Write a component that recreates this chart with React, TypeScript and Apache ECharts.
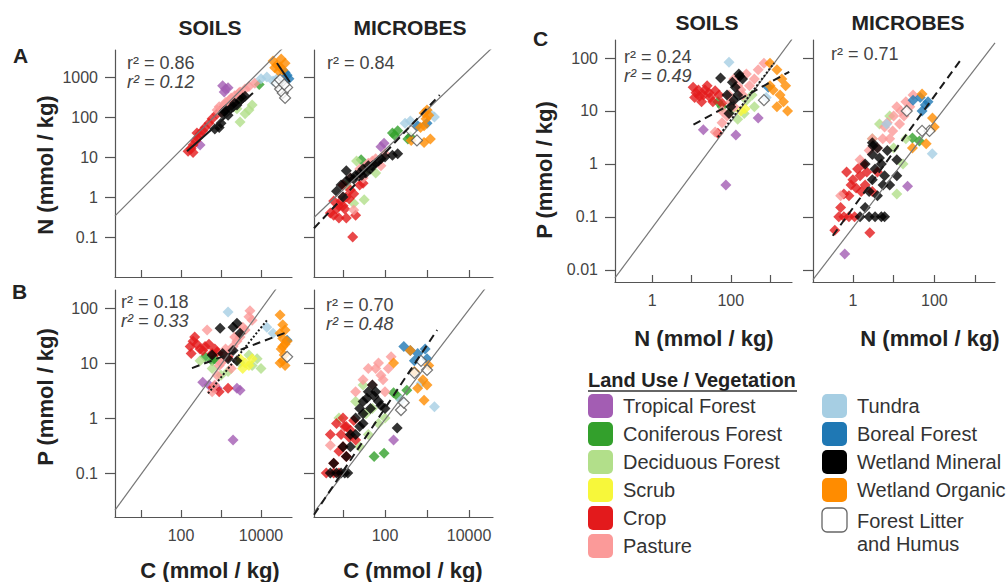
import React, { useEffect, useRef } from 'react';
import * as echarts from 'echarts';

const FONT = '"Liberation Sans", Arial, sans-serif';

const CAT_KEYS = ['trop', 'conif', 'decid', 'scrub', 'crop', 'past', 'tundra', 'boreal', 'wetMin', 'wetOrg', 'litter'];
const CAT_NAMES = ['Tropical Forest', 'Coniferous Forest', 'Deciduous Forest', 'Scrub', 'Crop', 'Pasture', 'Tundra', 'Boreal Forest', 'Wetland Mineral', 'Wetland Organic', 'Forest Litter\nand Humus'];
const CAT_COLORS = ['#a35db3', '#33a02c', '#b2df8a', '#f7f73a', '#e31a1c', '#fb9a99', '#a6cee3', '#1f78b4', '#000000', '#ff8c00', '#ffffff'];

// Panel A, soils: [C, N] in mmol/kg
const soilCN: Record<string, number[][]> = {
  trop: [[1100, 600], [1300, 500], [1200, 420], [1500, 540], [300, 20]],
  conif: [[9000, 650], [3000, 280]],
  decid: [[5000, 150], [3000, 75], [6000, 200], [4000, 120], [2500, 160]],
  scrub: [],
  crop: [[150, 14], [180, 16], [200, 20], [230, 25], [260, 30], [300, 38], [350, 45], [400, 55], [500, 70], [600, 90], [800, 120], [1000, 150], [1100, 140], [250, 40], [200, 13]],
  past: [[800, 150], [1000, 130], [1200, 200], [1600, 260], [2000, 230], [2200, 340], [3000, 420], [4000, 500], [5000, 580], [7000, 700], [1500, 180], [2500, 300], [900, 180], [1800, 300], [2800, 400], [1300, 230]],
  tundra: [[10000, 900], [14000, 1000], [20000, 800], [25000, 900], [30000, 750]],
  boreal: [[50000, 900], [45000, 1100], [40000, 1300]],
  wetMin: [[900, 55], [1000, 70], [1100, 120], [1300, 150], [1500, 110], [2000, 180], [2500, 200], [3000, 260], [3500, 300], [4000, 330], [1200, 140], [700, 50], [1700, 160], [2200, 220]],
  wetOrg: [[20000, 2500], [25000, 2000], [30000, 1800], [35000, 1500], [40000, 2200], [28000, 1400], [22000, 1700], [32000, 2800]],
  litter: [[25000, 700], [30000, 500], [35000, 400], [40000, 300], [45000, 550], [30000, 850], [38000, 650]],
};

// Panel A, microbes: [C, N]
const microCN: Record<string, number[][]> = {
  trop: [[80, 18], [95, 22]],
  conif: [[27, 8.5], [150, 40], [200, 45], [170, 35], [400, 32], [350, 28]],
  decid: [[21, 8], [32, 0.85], [18, 0.7], [40, 5], [60, 4], [12, 2]],
  scrub: [],
  crop: [[5, 0.4], [6, 0.35], [7, 0.5], [9, 0.8], [10, 0.6], [12, 1.0], [15, 1.5], [20, 0.35], [18, 1.2], [25, 2.0], [30, 2.2], [8, 0.6], [12, 0.3], [17, 0.1], [6, 0.8], [10, 2], [8, 0.3], [11, 0.5], [14, 0.9]],
  past: [[15, 3], [25, 5], [40, 7], [60, 9], [80, 6], [30, 3], [10, 1], [18, 0.47], [100, 12], [50, 8], [35, 6]],
  tundra: [[300, 70], [1500, 100], [1200, 120], [400, 80]],
  boreal: [[1000, 70], [600, 60]],
  wetMin: [[7, 1.4], [9, 2], [12, 4.5], [12, 2.5], [15, 3], [20, 3.5], [25, 4], [30, 5], [40, 6], [50, 6], [60, 7], [80, 9], [100, 10], [150, 11], [200, 12], [10, 1.0], [35, 4], [18, 2.8], [28, 3.5], [45, 5], [70, 8]],
  wetOrg: [[850, 126], [1000, 150], [1100, 110], [850, 60], [700, 55], [420, 26], [850, 23], [1200, 28], [950, 90]],
  litter: [[575, 26], [420, 45]],
};

// Panel B, soils: [C, P]
const soilCP: Record<string, number[][]> = {
  trop: [[350, 4.5], [500, 4], [700, 3.8], [800, 3.5], [2000, 0.4], [3000, 3.2], [2500, 3.5]],
  conif: [[600, 11], [700, 12], [400, 13]],
  decid: [[300, 11], [600, 8], [1500, 7], [3000, 10], [6000, 9], [8000, 12], [10000, 8], [5000, 14], [1000, 6]],
  scrub: [[3000, 12], [4000, 10], [5000, 9], [6000, 12], [3500, 8]],
  crop: [[170, 20], [200, 25], [250, 22], [300, 18], [400, 20], [600, 15], [800, 16], [1200, 14], [180, 15], [220, 30], [500, 22], [1500, 13], [350, 17], [700, 18], [630, 3.6], [1500, 3.5], [900, 3]],
  past: [[600, 3], [800, 6], [1000, 10], [1500, 15], [2500, 25], [4000, 40], [6000, 60], [450, 40], [5300, 90], [700, 4], [1200, 12], [2000, 20], [3000, 30], [1800, 8], [900, 9], [1300, 18], [2200, 30], [3500, 45], [5000, 70]],
  tundra: [[1500, 85], [20000, 35], [14000, 45]],
  boreal: [[45000, 26]],
  wetMin: [[950, 43], [2500, 53], [3000, 35], [2000, 17], [2500, 11], [1100, 15], [600, 14], [2000, 45], [1500, 12]],
  wetOrg: [[30000, 75], [35000, 50], [40000, 40], [30000, 35], [35000, 28], [40000, 22], [32000, 18], [38000, 14], [35000, 11], [40000, 9], [30000, 10], [45000, 25], [35000, 20]],
  litter: [[45000, 13]],
};

// Panel B, microbes: [C, P]
const microCP: Record<string, number[][]> = {
  trop: [[160, 0.4]],
  conif: [[55, 0.2], [95, 0.23], [160, 2.9], [330, 3.2], [200, 2.5]],
  decid: [[8, 1], [20, 2], [40, 0.5], [25, 0.3], [50, 1.5], [70, 0.8], [30, 4], [35, 1.2], [100, 1]],
  scrub: [],
  crop: [[4, 0.1], [6, 0.1], [8, 0.1], [5, 0.5], [7, 0.8], [10, 0.3], [15, 0.6], [20, 0.4], [12, 0.2], [8, 0.25], [6, 0.15], [18, 0.9], [10, 1], [12, 0.7], [9, 0.5], [14, 0.45], [11, 0.7]],
  past: [[5, 0.32], [30, 5], [50, 4], [80, 6], [100, 3], [60, 8], [140, 13], [20, 3], [40, 8], [70, 10], [120, 8], [90, 5]],
  tundra: [[1500, 1.6], [240, 2.1], [720, 4.3]],
  boreal: [[280, 20], [400, 17], [600, 15], [900, 18], [1000, 12], [500, 11]],
  wetMin: [[5, 0.1], [7, 0.1], [9, 0.1], [11, 0.1], [13, 0.1], [6, 0.15], [10, 0.3], [15, 0.5], [20, 1], [25, 1.5], [30, 2], [40, 3], [50, 4], [60, 3], [70, 2], [30, 0.8], [20, 0.5], [15, 0.3], [100, 1.5], [195, 0.66], [12, 0.2], [37, 2.3], [80, 1.7], [30, 1.2], [45, 1.5], [55, 2.5], [25, 0.7]],
  wetOrg: [[160, 10], [500, 7], [800, 5], [1000, 4], [600, 3.5], [850, 2.1], [400, 17], [1100, 9]],
  litter: [[240, 1.4], [280, 1.9], [500, 6.6], [1000, 7.5], [720, 11]],
};

// Panel C, soils: [N, P]
const soilNP: Record<string, number[][]> = {
  trop: [[20, 4.4], [135, 3.5], [500, 7.4], [75, 0.4]],
  conif: [[47, 15], [60, 12]],
  decid: [[250, 16], [220, 9], [400, 12], [350, 20], [100, 10], [150, 7]],
  scrub: [[180, 10], [230, 11]],
  crop: [[11, 28], [13, 22], [15, 25], [20, 20], [25, 30], [30, 18], [40, 24], [50, 20], [12, 18], [18, 15], [35, 15], [60, 14], [47, 3.8], [22, 25], [28, 22], [16, 19]],
  past: [[40, 4], [80, 8], [120, 12], [200, 20], [400, 40], [700, 80], [300, 30], [150, 30], [250, 50], [60, 6], [100, 15], [90, 20], [180, 25], [500, 60], [60, 10], [120, 40]],
  tundra: [[90, 83], [800, 18]],
  boreal: [[900, 28]],
  wetMin: [[55, 42], [160, 50], [170, 45], [120, 16], [150, 20], [200, 40], [100, 12], [130, 28], [90, 9], [110, 35], [80, 20]],
  wetOrg: [[1000, 80], [1500, 60], [2000, 40], [2500, 30], [1200, 25], [1800, 20], [2200, 15], [1500, 12], [2800, 10], [1000, 30]],
  litter: [[700, 16]],
};

// Panel C, microbes: [N, P]
const microNP: Record<string, number[][]> = {
  trop: [[0.63, 0.02], [22, 0.38]],
  conif: [[29, 3.1], [43, 2.7]],
  decid: [[3, 3], [12, 0.27], [17, 1.0], [4.5, 5.7], [8, 8], [10, 2], [20, 3]],
  scrub: [],
  crop: [[0.45, 0.1], [0.6, 0.1], [0.8, 0.1], [1.1, 0.1], [0.7, 0.7], [1, 0.5], [1.5, 0.6], [2, 0.4], [3, 0.3], [1.2, 0.35], [0.8, 0.25], [4, 0.7], [0.6, 0.27], [0.36, 0.056], [2.6, 0.05], [0.9, 0.4], [1.3, 0.8], [1.8, 1], [2.2, 0.7], [0.5, 0.15], [1.6, 0.3]],
  past: [[0.5, 0.25], [1.5, 1.2], [3, 3], [6, 5], [10, 8], [15, 10], [20, 15], [30, 20], [8, 3], [9.5, 4.2], [14, 5.7], [5.4, 3], [7, 6], [12, 12], [18, 8], [25, 12], [4, 2], [2.5, 1.8]],
  tundra: [[89, 1.55], [6.7, 5.7]],
  boreal: [[30, 16], [45, 18], [60, 13], [50, 10], [70, 15]],
  wetMin: [[1.5, 0.1], [2.5, 0.1], [3.5, 0.1], [5, 0.1], [6, 0.1], [2, 1], [3, 1.5], [4, 2], [5, 1], [6, 0.6], [3, 0.5], [2.5, 0.3], [4, 0.25], [8, 0.4], [12, 1.2], [2, 0.15], [3, 2.5], [3.1, 2.2], [12, 0.6], [4.5, 1.3], [7, 1.8], [3.5, 0.8], [5.5, 0.4]],
  wetOrg: [[50, 21], [90, 7.4], [29, 2.0], [63, 2.4], [100, 5]],
  litter: [[21, 10], [76, 4.2], [50, 4.2]],
};

// Regression lines (end points, raw units)
const fitSoilCN = [[141, 14], [6300, 400]];
const fitSoilCNorg = [[25000, 2240], [52500, 750]];
const fitMicroCN = [[2.04, 0.166], [2000, 355]];
const fitSoilCPdash = [[188, 8.1], [44700, 36.6]];
const fitSoilCPdot = [[475, 2.8], [14000, 60]];
const fitMicroCP = [[2.04, 0.0174], [1740, 40]];
const fitSoilNPdash = [[11.2, 5.5], [3090, 55]];
const fitSoilNPdot = [[47, 3.2], [1260, 80]];
const fitMicroNP = [[0.32, 0.044], [480, 100]];

// Redfield ratios (C:N:P = 106:16:1)
const RATIO_CN = 106 / 16;
const RATIO_CP = 106;
const RATIO_NP = 16;

// r² annotations
const r2SoilCN = ['0.86', '0.12'];
const r2MicroCN = ['0.84'];
const r2SoilCP = ['0.18', '0.33'];
const r2MicroCP = ['0.70', '0.48'];
const r2SoilNP = ['0.24', '0.49'];
const r2MicroNP = ['0.71'];

const L = Math.log10;

interface Fit { pts: number[][]; dash: any }
interface Panel {
  data: Record<string, number[][]>;
  grid: { left: number; top: number; width: number; height: number };
  x: [number, number];
  y: [number, number];
  xTicks: number[];
  xLabels: number[];
  yTicks: number[];
  yLabels: number[];
  ratio: number;
  fits: Fit[];
  r2: string[];
  r2Pos: [number, number];
}

const DASH = [8, 5];

const panels: Panel[] = [
  { data: soilCN, grid: { left: 115, top: 50, width: 177, height: 227 }, x: [0.35, 4.775], y: [-2, 3.675], xTicks: [1, 2, 3, 4], xLabels: [], yTicks: [-1, 0, 1, 2, 3], yLabels: [-1, 0, 1, 2, 3], ratio: RATIO_CN, fits: [{ pts: fitSoilCN, dash: 'solid' }, { pts: fitSoilCNorg, dash: 'solid' }], r2: r2SoilCN, r2Pos: [127, 63] },
  { data: microCN, grid: { left: 314, top: 50, width: 179, height: 227 }, x: [0.31, 4.57], y: [-2, 3.675], xTicks: [1, 2, 3, 4], xLabels: [], yTicks: [-1, 0, 1, 2, 3], yLabels: [], ratio: RATIO_CN, fits: [{ pts: fitMicroCN, dash: DASH }], r2: r2MicroCN, r2Pos: [327, 63] },
  { data: soilCP, grid: { left: 115, top: 290, width: 177, height: 227 }, x: [0.35, 4.775], y: [-1.8, 2.33], xTicks: [1, 2, 3, 4], xLabels: [2, 4], yTicks: [-1, 0, 1, 2], yLabels: [-1, 0, 1, 2], ratio: RATIO_CP, fits: [{ pts: fitSoilCPdash, dash: DASH }, { pts: fitSoilCPdot, dash: [2, 2] }], r2: r2SoilCP, r2Pos: [121, 302] },
  { data: microCP, grid: { left: 314, top: 290, width: 179, height: 227 }, x: [0.31, 4.57], y: [-1.8, 2.33], xTicks: [1, 2, 3, 4], xLabels: [2, 4], yTicks: [-1, 0, 1, 2], yLabels: [], ratio: RATIO_CP, fits: [{ pts: fitMicroCP, dash: DASH }], r2: r2MicroCP, r2Pos: [326, 305] },
  { data: soilNP, grid: { left: 615, top: 40, width: 177, height: 242 }, x: [-0.95, 3.56], y: [-2.23, 2.34], xTicks: [0, 1, 2, 3], xLabels: [0, 2], yTicks: [-2, -1, 0, 1, 2], yLabels: [-2, -1, 0, 1, 2], ratio: RATIO_NP, fits: [{ pts: fitSoilNPdash, dash: DASH }, { pts: fitSoilNPdot, dash: [2, 2] }], r2: r2SoilNP, r2Pos: [624, 57] },
  { data: microNP, grid: { left: 813, top: 40, width: 182, height: 242 }, x: [-0.98, 3.49], y: [-2.23, 2.34], xTicks: [0, 1, 2, 3], xLabels: [0, 2], yTicks: [-2, -1, 0, 1, 2], yLabels: [], ratio: RATIO_NP, fits: [{ pts: fitMicroNP, dash: DASH }], r2: r2MicroNP, r2Pos: [831, 54] },
];

const fmt = (v: number) => {
  const p = Math.round(v);
  return p >= 0 ? String(Math.pow(10, p)) : Math.pow(10, p).toFixed(-p);
};

const AXIS_COLOR = '#555';

function buildOption() {
  const grid: any[] = [];
  const xAxis: any[] = [];
  const yAxis: any[] = [];
  const series: any[] = [];
  const graphic: any[] = [];

  panels.forEach((p, i) => {
    grid.push({ ...p.grid, containLabel: false });
    xAxis.push({
      type: 'value', gridIndex: i, min: p.x[0], max: p.x[1],
      axisLine: { show: true, onZero: false, lineStyle: { color: AXIS_COLOR, width: 1.2 } },
      axisTick: { show: true, inside: true, length: 7, customValues: p.xTicks, lineStyle: { color: AXIS_COLOR, width: 1.2 } },
      axisLabel: { show: p.xLabels.length > 0, customValues: p.xLabels, formatter: fmt, margin: 10, fontSize: 16, color: '#444', fontFamily: FONT },
      splitLine: { show: false },
    });
    yAxis.push({
      type: 'value', gridIndex: i, min: p.y[0], max: p.y[1],
      axisLine: { show: true, onZero: false, lineStyle: { color: AXIS_COLOR, width: 1.2 } },
      axisTick: { show: true, inside: false, length: 10, customValues: p.yTicks, lineStyle: { color: AXIS_COLOR, width: 1.2 } },
      axisLabel: { show: p.yLabels.length > 0, customValues: p.yLabels, formatter: fmt, margin: 17, fontSize: 16, color: '#444', fontFamily: FONT },
      splitLine: { show: false },
    });

    CAT_KEYS.forEach((k, ci) => {
      const pts = p.data[k] || [];
      const isLitter = k === 'litter';
      series.push({
        type: 'scatter', name: CAT_NAMES[ci], xAxisIndex: i, yAxisIndex: i,
        symbol: 'diamond', symbolSize: 11,
        itemStyle: isLitter
          ? { color: '#ffffff', borderColor: '#555', borderWidth: 1.2 }
          : { color: CAT_COLORS[ci] },
        data: pts.map(([a, b]) => [L(a), L(b)]),
        z: 2,
      });
    });

    const lr = L(p.ratio);
    series.push({
      type: 'line', xAxisIndex: i, yAxisIndex: i, symbol: 'none', clip: true, silent: true,
      lineStyle: { color: '#777', width: 1.2 },
      data: [[p.x[0], p.x[0] - lr], [p.x[1], p.x[1] - lr]],
      z: 3,
    });
    p.fits.forEach((f) => {
      series.push({
        type: 'line', xAxisIndex: i, yAxisIndex: i, symbol: 'none', clip: true, silent: true,
        lineStyle: { color: '#1a1a1a', width: 2, type: f.dash },
        data: f.pts.map(([a, b]) => [L(a), L(b)]),
        z: 4,
      });
    });

    p.r2.forEach((v, j) => {
      graphic.push({
        type: 'text', x: p.r2Pos[0], y: p.r2Pos[1] + j * 19,
        style: {
          text: 'r² = ' + v,
          font: (j === 1 ? 'italic ' : '') + '18px ' + FONT,
          fill: '#444', align: 'left', verticalAlign: 'middle', textAlign: 'left', textVerticalAlign: 'middle',
        },
        z: 10,
      });
    });
  });

  const txt = (text: string, x: number, y: number, font: string, opts: any = {}) => ({
    type: 'text', x, y, rotation: opts.rotation || 0,
    style: {
      text, font, fill: opts.fill || '#222',
      align: opts.align || 'center', verticalAlign: 'middle',
      textAlign: opts.align || 'center', textVerticalAlign: 'middle',
    },
    z: 10,
  });

  const TITLE = 'bold 21px ' + FONT;
  const AXT = 'bold 22px ' + FONT;
  graphic.push(txt('SOILS', 210, 27, TITLE));
  graphic.push(txt('MICROBES', 410, 27, TITLE));
  graphic.push(txt('SOILS', 707, 22, TITLE));
  graphic.push(txt('MICROBES', 908, 22, TITLE));
  graphic.push(txt('A', 13, 55, TITLE, { align: 'left' }));
  graphic.push(txt('B', 12, 291, TITLE, { align: 'left' }));
  graphic.push(txt('C', 533, 38, TITLE, { align: 'left' }));

  graphic.push(txt('N (mmol / kg)', 45, 165, AXT, { rotation: Math.PI / 2 }));
  graphic.push(txt('P (mmol / kg)', 45, 397, AXT, { rotation: Math.PI / 2 }));
  graphic.push(txt('P (mmol / kg)', 544, 170, AXT, { rotation: Math.PI / 2 }));
  graphic.push(txt('C (mmol / kg)', 210, 570, AXT));
  graphic.push(txt('C (mmol / kg)', 413, 570, AXT));
  graphic.push(txt('N (mmol / kg)', 704, 338, AXT));
  graphic.push(txt('N (mmol / kg)', 930, 338, AXT));

  // Legend
  graphic.push(txt('Land Use / Vegetation', 588, 380, 'bold 20px ' + FONT, { align: 'left' }));
  graphic.push({ type: 'line', shape: { x1: 588, y1: 391, x2: 797, y2: 391 }, style: { stroke: '#333', lineWidth: 1.5 }, z: 10 });
  const rowsY = [406, 434, 462, 490, 518, 546];
  CAT_KEYS.forEach((k, ci) => {
    const col = ci < 6 ? 0 : 1;
    const row = ci < 6 ? ci : ci - 6;
    const sx = col === 0 ? 588 : 822;
    const cy = rowsY[row] + (k === 'litter' ? 2 : 0);
    const isLitter = k === 'litter';
    graphic.push({
      type: 'rect', shape: { x: sx, y: cy - 12, width: 25, height: 24, r: 5 },
      style: isLitter ? { fill: '#fff', stroke: '#666', lineWidth: 1.3 } : { fill: CAT_COLORS[ci] },
      z: 10,
    });
    if (isLitter) {
      graphic.push({
        type: 'text', x: sx + 35, y: rowsY[row] - 9,
        style: { text: CAT_NAMES[ci], font: '20px ' + FONT, fill: '#333', align: 'left', verticalAlign: 'top', textAlign: 'left', textVerticalAlign: 'top', lineHeight: 23 },
        z: 10,
      });
    } else {
      graphic.push(txt(CAT_NAMES[ci], sx + 35, cy, '20px ' + FONT, { align: 'left', fill: '#333' }));
    }
  });

  return {
    animation: false,
    backgroundColor: '#fff',
    textStyle: { fontFamily: FONT },
    grid, xAxis, yAxis, series, graphic,
  };
}

export default function App() {
  const ref = useRef<HTMLDivElement>(null);
  useEffect(() => {
    const chart = echarts.init(ref.current!, null, { renderer: 'svg' });
    chart.setOption(buildOption() as any);
    return () => chart.dispose();
  }, []);
  return <div ref={ref} style={{ position: 'fixed', left: 0, top: 0, width: 1008, height: 582, background: '#fff' }} />;
}
